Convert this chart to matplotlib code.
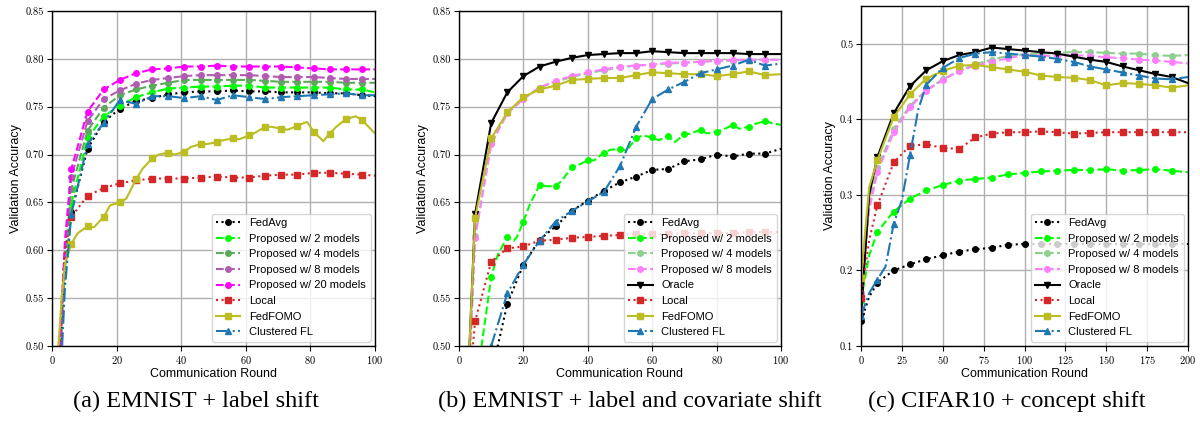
import numpy as np
import matplotlib
matplotlib.use("Agg")
import matplotlib.pyplot as plt

plt.rcParams['font.family'] = ['Liberation Sans', 'DejaVu Sans']
plt.rcParams['axes.formatter.use_mathtext'] = True

# ---------------- panel (a): EMNIST + label shift ----------------
xa = [2, 3, 4, 6, 11, 16, 21, 26, 31, 36, 41, 46, 51, 56, 61, 66, 71, 76, 81, 86, 91, 96, 100]
fedavg_a = [0.42, 0.51, 0.57, 0.640, 0.706, 0.734, 0.748, 0.756, 0.759, 0.763, 0.765, 0.766, 0.766,
            0.767, 0.766, 0.766, 0.765, 0.765, 0.765, 0.764, 0.764, 0.762, 0.761]
prop2_a = [0.43, 0.52, 0.58, 0.649, 0.717, 0.740, 0.751, 0.760, 0.765, 0.769, 0.770, 0.771, 0.771,
           0.772, 0.772, 0.770, 0.770, 0.770, 0.770, 0.770, 0.768, 0.768, 0.765]
prop4_a = [0.43, 0.53, 0.59, 0.664, 0.725, 0.749, 0.762, 0.768, 0.772, 0.775, 0.778, 0.778, 0.778,
           0.778, 0.778, 0.777, 0.776, 0.776, 0.776, 0.776, 0.775, 0.775, 0.775]
prop8_a = [0.44, 0.53, 0.60, 0.677, 0.735, 0.758, 0.767, 0.774, 0.778, 0.780, 0.782, 0.783, 0.783,
           0.783, 0.783, 0.782, 0.781, 0.781, 0.781, 0.780, 0.779, 0.779, 0.779]
prop20_a = [0.44, 0.54, 0.61, 0.685, 0.745, 0.768, 0.778, 0.785, 0.789, 0.790, 0.792, 0.792, 0.793,
            0.792, 0.792, 0.792, 0.792, 0.791, 0.790, 0.789, 0.789, 0.789, 0.789]
local_a = [0.47, 0.55, 0.60, 0.635, 0.657, 0.665, 0.670, 0.673, 0.675, 0.675, 0.675, 0.676, 0.677,
           0.676, 0.676, 0.678, 0.679, 0.679, 0.681, 0.681, 0.680, 0.679, 0.678]
cfl_a = [0.40, 0.49, 0.56, 0.638, 0.711, 0.733, 0.757, 0.753, 0.761, 0.761, 0.759, 0.761, 0.757,
         0.762, 0.760, 0.758, 0.760, 0.761, 0.762, 0.763, 0.764, 0.762, 0.762]
xa_fomo = [2, 3, 4, 6, 8, 11, 13, 16, 18, 21, 23, 26, 28, 31, 33, 36, 38, 41, 43, 46, 48, 51, 53,
           56, 58, 61, 63, 66, 68, 71, 73, 76, 78, 79, 81, 84, 86, 88, 91, 94, 96, 98, 100]
fomo_a = [0.50, 0.55, 0.585, 0.607, 0.618, 0.625, 0.624, 0.635, 0.647, 0.650, 0.654, 0.674, 0.685,
          0.696, 0.700, 0.702, 0.700, 0.703, 0.708, 0.711, 0.711, 0.713, 0.715, 0.717, 0.716,
          0.720, 0.723, 0.729, 0.729, 0.727, 0.726, 0.730, 0.733, 0.734, 0.724, 0.714, 0.722,
          0.729, 0.737, 0.740, 0.736, 0.729, 0.722]

# ---------------- panel (b): EMNIST + label and covariate shift ----------------
xb = [3, 5, 10, 15, 20, 25, 30, 35, 40, 45, 50, 55, 60, 65, 70, 75, 80, 85, 90, 95, 100]
fedavg_b = [0.20, 0.30, 0.47, 0.544, 0.585, 0.611, 0.625, 0.641, 0.652, 0.662, 0.671, 0.677, 0.684,
            0.685, 0.693, 0.695, 0.700, 0.698, 0.701, 0.701, 0.706]
prop4_b = [0.46, 0.615, 0.712, 0.744, 0.759, 0.770, 0.776, 0.781, 0.785, 0.788, 0.791, 0.793, 0.794,
           0.795, 0.796, 0.797, 0.798, 0.798, 0.799, 0.799, 0.799]
prop8_b = [0.46, 0.613, 0.711, 0.743, 0.758, 0.770, 0.777, 0.782, 0.786, 0.789, 0.792, 0.793, 0.794,
           0.796, 0.796, 0.797, 0.798, 0.799, 0.799, 0.799, 0.799]
oracle_b = [0.48, 0.638, 0.733, 0.765, 0.782, 0.792, 0.797, 0.801, 0.804, 0.805, 0.806, 0.806, 0.808,
            0.807, 0.806, 0.806, 0.806, 0.806, 0.805, 0.805, 0.805]
local_b = [0.45, 0.526, 0.588, 0.602, 0.604, 0.610, 0.611, 0.613, 0.614, 0.615, 0.616, 0.617, 0.617,
           0.617, 0.618, 0.618, 0.618, 0.618, 0.619, 0.619, 0.619]
fomo_b = [0.48, 0.634, 0.717, 0.744, 0.760, 0.768, 0.772, 0.778, 0.779, 0.780, 0.780, 0.783, 0.786,
          0.785, 0.784, 0.784, 0.782, 0.784, 0.787, 0.783, 0.784]
cfl_b = [0.25, 0.35, 0.500, 0.555, 0.585, 0.610, 0.630, 0.641, 0.651, 0.661, 0.688, 0.729, 0.758,
         0.768, 0.776, 0.785, 0.789, 0.793, 0.799, 0.793, 0.795]
xb_prop2 = [5, 7, 10, 12, 15, 17, 18, 20, 22, 25, 27, 30, 32, 35, 37, 40, 42, 45, 47, 50, 52, 55,
            57, 60, 62, 65, 67, 70, 72, 75, 77, 80, 82, 85, 87, 90, 92, 95, 97, 100]
prop2_b = [0.43, 0.50, 0.572, 0.595, 0.614, 0.610, 0.614, 0.630, 0.648, 0.668, 0.667, 0.667, 0.673,
           0.687, 0.689, 0.694, 0.694, 0.702, 0.705, 0.706, 0.704, 0.717, 0.720, 0.718, 0.715,
           0.719, 0.713, 0.721, 0.722, 0.726, 0.722, 0.724, 0.726, 0.731, 0.727, 0.729, 0.732,
           0.735, 0.733, 0.731]

# ---------------- panel (c): CIFAR10 + concept shift ----------------
xc = [0, 5, 10, 20, 30, 40, 50, 60, 70, 80, 90, 100, 110, 120, 130, 140, 150, 160, 170, 180, 190, 200]
fedavg_c = [0.133, 0.165, 0.184, 0.200, 0.208, 0.215, 0.220, 0.225, 0.228, 0.230, 0.234, 0.235,
            0.235, 0.235, 0.235, 0.235, 0.235, 0.235, 0.235, 0.235, 0.235, 0.235]
prop2_c = [0.16, 0.22, 0.251, 0.278, 0.295, 0.306, 0.313, 0.319, 0.321, 0.323, 0.327, 0.329, 0.331,
           0.332, 0.333, 0.333, 0.334, 0.332, 0.333, 0.334, 0.332, 0.330]
prop4_c = [0.17, 0.29, 0.335, 0.387, 0.418, 0.439, 0.453, 0.464, 0.473, 0.479, 0.484, 0.486, 0.487,
           0.488, 0.489, 0.489, 0.488, 0.487, 0.487, 0.485, 0.484, 0.485]
prop8_c = [0.17, 0.28, 0.330, 0.383, 0.416, 0.438, 0.452, 0.464, 0.471, 0.476, 0.481, 0.485, 0.484,
           0.484, 0.485, 0.484, 0.482, 0.481, 0.479, 0.478, 0.476, 0.474]
oracle_c = [0.14, 0.30, 0.350, 0.408, 0.444, 0.465, 0.477, 0.485, 0.489, 0.495, 0.493, 0.491, 0.489,
            0.487, 0.483, 0.479, 0.476, 0.470, 0.465, 0.460, 0.456, 0.448]
local_c = [0.164, 0.24, 0.286, 0.343, 0.365, 0.367, 0.362, 0.361, 0.376, 0.381, 0.383, 0.383, 0.384,
           0.383, 0.381, 0.382, 0.383, 0.383, 0.383, 0.383, 0.383, 0.383]
fomo_c = [0.19, 0.31, 0.346, 0.403, 0.433, 0.454, 0.464, 0.471, 0.472, 0.469, 0.466, 0.463, 0.458,
          0.456, 0.455, 0.452, 0.445, 0.448, 0.447, 0.445, 0.442, 0.445]
xc_cfl = [0, 5, 10, 15, 20, 25, 30, 35, 40, 50, 60, 70, 80, 90, 100, 110, 120, 130, 140, 150, 160,
          170, 180, 190, 200]
cfl_c = [0.14, 0.17, 0.188, 0.205, 0.262, 0.293, 0.353, 0.413, 0.446, 0.468, 0.481, 0.487, 0.489,
         0.487, 0.485, 0.483, 0.480, 0.476, 0.470, 0.466, 0.462, 0.458, 0.454, 0.453, 0.456]

captions = ['(a) EMNIST + label shift', '(b) EMNIST + label and covariate shift',
            '(c) CIFAR10 + concept shift']


def curve(ax, x, y, label, color, ls, marker, step, offset=0, ms=4):
    # markers only on every `step`-th round, not on the last point
    idx = [i for i, v in enumerate(x) if v % step == offset and v != max(x)]
    ax.plot(x, y, ls=ls, color=color, marker=marker, markevery=idx, ms=ms, lw=1.5, label=label)


fig = plt.figure(figsize=(12, 4.33), dpi=100)
ax_a = fig.add_axes([52 / 1200, 87 / 433, 323 / 1200, 335 / 433])
ax_b = fig.add_axes([459 / 1200, 87 / 433, 322 / 1200, 335 / 433])
ax_c = fig.add_axes([861 / 1200, 87 / 433, 327 / 1200, 340 / 433])

curve(ax_a, xa, fedavg_a, 'FedAvg', 'black', ':', 'o', 5, 1)
curve(ax_a, xa, prop2_a, 'Proposed w/ 2 models', '#00ff00', '--', 'o', 5, 1)
curve(ax_a, xa, prop4_a, 'Proposed w/ 4 models', '#5aaa5a', '--', 'o', 5, 1)
curve(ax_a, xa, prop8_a, 'Proposed w/ 8 models', '#b05cb0', '--', 'o', 5, 1)
curve(ax_a, xa, prop20_a, 'Proposed w/ 20 models', '#ff00ff', '--', 'o', 5, 1)
curve(ax_a, xa, local_a, 'Local', '#d62728', ':', 's', 5, 1)
curve(ax_a, xa_fomo, fomo_a, 'FedFOMO', '#bcbd22', '-', 's', 5, 1)
curve(ax_a, xa, cfl_a, 'Clustered FL', '#1f77b4', '-.', '^', 5, 1)

curve(ax_b, xb, fedavg_b, 'FedAvg', 'black', ':', 'o', 5)
curve(ax_b, xb_prop2, prop2_b, 'Proposed w/ 2 models', '#00ff00', '--', 'o', 5)
curve(ax_b, xb, prop4_b, 'Proposed w/ 4 models', '#8fcf8f', '--', 'o', 5)
curve(ax_b, xb, prop8_b, 'Proposed w/ 8 models', '#ff80ff', '--', 'o', 5)
curve(ax_b, xb, oracle_b, 'Oracle', 'black', '-', 'v', 5)
curve(ax_b, xb, local_b, 'Local', '#d62728', ':', 's', 5)
curve(ax_b, xb, fomo_b, 'FedFOMO', '#bcbd22', '-', 's', 5)
curve(ax_b, xb, cfl_b, 'Clustered FL', '#1f77b4', '-.', '^', 5)

curve(ax_c, xc, fedavg_c, 'FedAvg', 'black', ':', 'o', 10)
curve(ax_c, xc, prop2_c, 'Proposed w/ 2 models', '#00ff00', '--', 'o', 10)
curve(ax_c, xc, prop4_c, 'Proposed w/ 4 models', '#8fcf8f', '--', 'o', 10)
curve(ax_c, xc, prop8_c, 'Proposed w/ 8 models', '#ff80ff', '--', 'o', 10)
curve(ax_c, xc, oracle_c, 'Oracle', 'black', '-', 'v', 10)
curve(ax_c, xc, local_c, 'Local', '#d62728', ':', 's', 10)
curve(ax_c, xc, fomo_c, 'FedFOMO', '#bcbd22', '-', 's', 10)
curve(ax_c, xc_cfl, cfl_c, 'Clustered FL', '#1f77b4', '-.', '^', 10)

for ax in (ax_a, ax_b):
    ax.set_xlim(0, 100)
    ax.set_ylim(0.5, 0.85)
    ax.set_xticks(np.arange(0, 101, 20))
    ax.set_yticks(np.arange(0.5, 0.851, 0.05))
    ax.yaxis.set_major_formatter(matplotlib.ticker.FormatStrFormatter('%.2f'))
ax_c.set_xlim(0, 200)
ax_c.set_ylim(0.1, 0.55)
ax_c.set_xticks(np.arange(0, 201, 25))
ax_c.set_yticks(np.arange(0.1, 0.51, 0.1))
ax_c.yaxis.set_major_formatter(matplotlib.ticker.FormatStrFormatter('%.1f'))

cap_x = [196, 630, 1007]
for ax, cap, cx in zip((ax_a, ax_b, ax_c), captions, cap_x):
    ax.grid(True, color='#b0b0b0', lw=1)
    ax.set_axisbelow(True)
    ax.set_xlabel('Communication Round', fontsize=9, labelpad=2)
    ax.set_ylabel('Validation Accuracy', fontsize=9, labelpad=3)
    for lab in ax.get_xticklabels() + ax.get_yticklabels():
        lab.set_fontfamily('cmr10')
        lab.set_fontsize(7.5)
    ax.tick_params(length=3.5, width=0.8, pad=2)
    for sp in ax.spines.values():
        sp.set_linewidth(1.0)
    ax.legend(loc='lower right', fontsize=8, framealpha=0.8, handlelength=2.2,
              labelspacing=0.5, borderaxespad=0.4)
    fig.text(cx / 1200, 1 - 401 / 433, cap, ha='center', va='center',
             fontsize=17.5, family='Liberation Serif')

fig.savefig('out.png', dpi=100)
